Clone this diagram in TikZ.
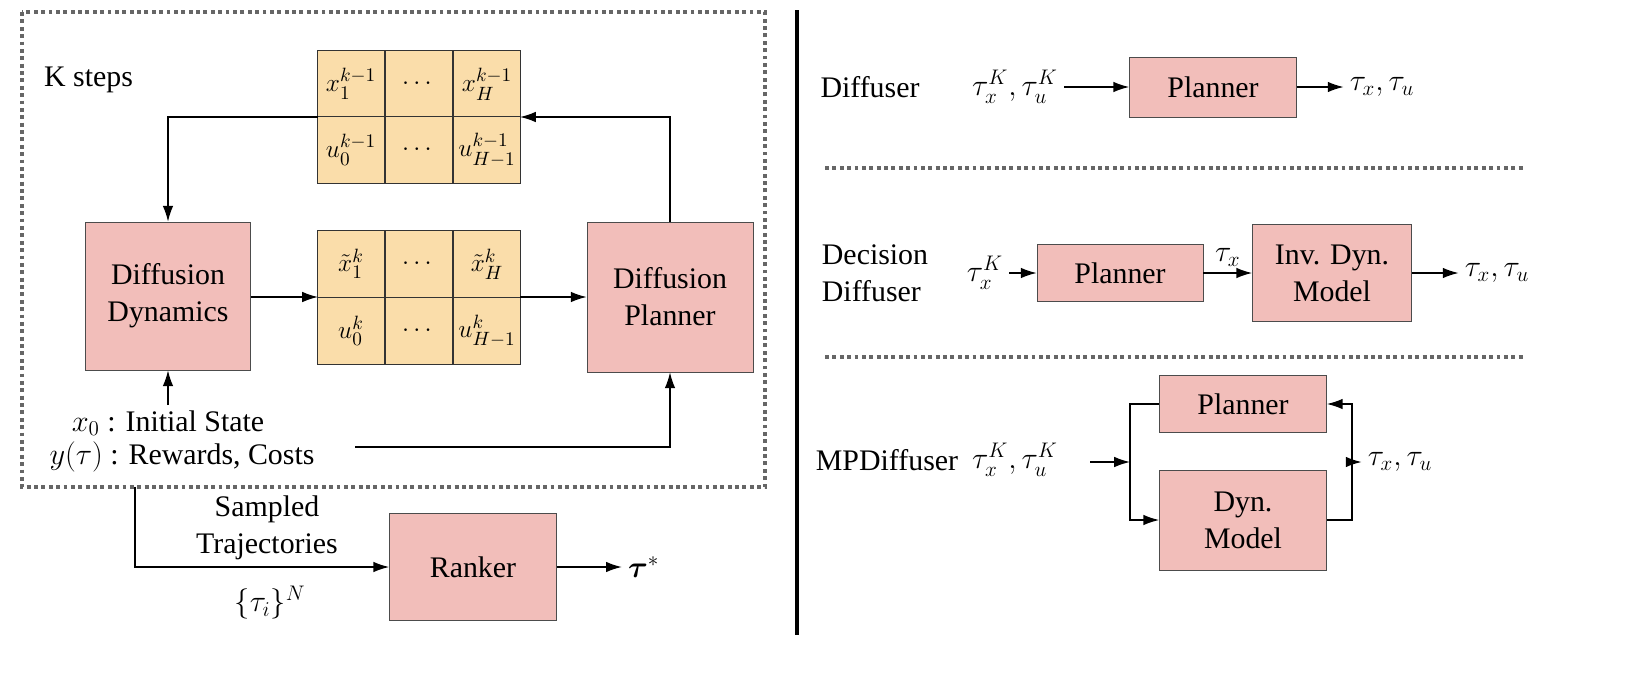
\documentclass[tikz,border=0pt]{standalone}
\usepackage{fontspec}
\setmainfont{Liberation Serif}
\usepackage{amsmath}
\usetikzlibrary{positioning}
\definecolor{boxpink}{RGB}{242,190,186}
\definecolor{cellorange}{RGB}{250,221,170}
\tikzset{
  blk/.style={draw=black!70, fill=boxpink, align=center, inner sep=2pt},
  cell/.style={draw=black!80, fill=cellorange, minimum width=1.34cm, minimum height=1.33cm, inner sep=0pt, font=\fontsize{15}{18}\selectfont},
  arr/.style={-{Latex[length=9pt,width=6pt]}, thick},
  sep/.style={dotted, black!60, line width=2.2pt}
}
\usetikzlibrary{arrows.meta}
\begin{document}
\begin{tikzpicture}[x=0.02cm, y=-0.02cm, font=\fontsize{17}{21}\selectfont]
  \useasboundingbox (0,0) rectangle (1626,676);
  % left part
  \draw[sep] (22,12) rectangle (765,487);
  \node[anchor=west] (ksteps) at (38,80) {K steps};
  % tables
  \node[cell] (t11) at (351,84) {$x_1^{k-1}$};
  \node[cell] (t12) at (419,84) {$\cdots$};
  \node[cell] (t13) at (487,84) {$x_H^{k-1}$};
  \node[cell] (t21) at (351,150) {$u_0^{k-1}$};
  \node[cell] (t22) at (419,150) {$\cdots$};
  \node[cell] (t23) at (487,150) {$u_{H-1}^{k-1}$};
  \node[cell] (m11) at (351,264) {$\tilde{x}_1^{k}$};
  \node[cell] (m12) at (419,264) {$\cdots$};
  \node[cell] (m13) at (487,264) {$\tilde{x}_H^{k}$};
  \node[cell] (m21) at (351,331) {$u_0^{k}$};
  \node[cell] (m22) at (419,331) {$\cdots$};
  \node[cell] (m23) at (487,331) {$u_{H-1}^{k}$};
  \coordinate (tl) at (318,117);
  \coordinate (tr) at (520,117);
  \coordinate (ml) at (318,297);
  \coordinate (mr) at (520,297);
  % boxes
  \node[blk, minimum width=3.3cm, minimum height=2.96cm] (dyn) at (168,296) {Diffusion\\Dynamics};
  \node[blk, minimum width=3.32cm, minimum height=3cm] (plan) at (670,297) {Diffusion\\Planner};
  \node[blk, minimum width=3.34cm, minimum height=2.14cm] (rank) at (473,567) {Ranker};
  \node (init) at (168,423) {$x_0$ : Initial State};
  \node (rew) at (182,457) {$y(\tau)$ : Rewards, Costs};
  \node[right=1.3cm of rank] (best) {$\boldsymbol{\tau}^{*}$};
  \node[align=center] (samp) at (267,528) {Sampled\\Trajectories};
  \node (set) at (270,603) {$\{\tau_i\}^N$};
  \draw[arr] (tl) -| (dyn.north);
  \draw[arr] (plan.north) |- (tr);
  \draw[arr] (dyn.east |- ml) -- (ml);
  \draw[arr] (mr) -- (plan.west |- mr);
  \draw[arr] (168,405) -- (dyn.south);
  \draw[arr] (355,447) -| (plan.south);
  \draw[arr] (135,487) |- (rank.west);
  \draw[arr] (rank.east) -- (best.west);
  % divider
  \draw[line width=2pt] (797,10) -- (797,635);
  % Diffuser
  \node (n1) at (870,87) {Diffuser};
  \node (in1) at (1015,87) {$\tau_x^K,\tau_u^K$};
  \node[blk, minimum width=3.34cm, minimum height=1.2cm] (p1) at (1213,87) {Planner};
  \node (out1) at (1382,87) {$\tau_x,\tau_u$};
  \draw[arr] (in1.east) -- (p1.west);
  \draw[arr] (p1.east) -- (out1.west);
  \draw[sep] (825,168) -- (1525,168);
  % Decision Diffuser
  \node[align=left] (n2) at (875,273) {Decision\\Diffuser};
  \node (in2) at (985,273) {$\tau_x^K$};
  \node[blk, minimum width=3.32cm, minimum height=1.14cm] (p2) at (1120,273) {Planner};
  \node[blk, minimum width=3.18cm, minimum height=1.94cm] (inv) at (1332,273) {Inv. Dyn.\\Model};
  \node (out2) at (1497,273) {$\tau_x,\tau_u$};
  \draw[arr] (in2.east) -- (p2.west);
  \draw[arr] (p2.east |- inv.west) -- node[above] {$\tau_x$} (inv.west);
  \draw[arr] (inv.east) -- (out2.west);
  \draw[sep] (825,357) -- (1525,357);
  % MPDiffuser
  \node (n3) at (887,460) {MPDiffuser};
  \node (in3) at (1015,460) {$\tau_x^K,\tau_u^K$};
  \node[blk, minimum width=3.34cm, minimum height=1.14cm] (p3) at (1243,404) {Planner};
  \node[blk, minimum width=3.34cm, minimum height=2cm] (dm) at (1243,520) {Dyn.\\Model};
  \node (out3) at (1400,462) {$\tau_x,\tau_u$};
  \coordinate (splitl) at (1130,462);
  \coordinate (splitr) at (1352,462);
  \draw[arr] (1090,462) -- (splitl);
  \draw[thick] (splitl) |- (p3.west);
  \draw[arr] (splitl) |- (dm.west);
  \draw[thick] (dm.east) -| (splitr);
  \draw[arr] (splitr) |- (p3.east);
  \draw[arr] (splitr) -- (out3.west);
\end{tikzpicture}
\end{document}
